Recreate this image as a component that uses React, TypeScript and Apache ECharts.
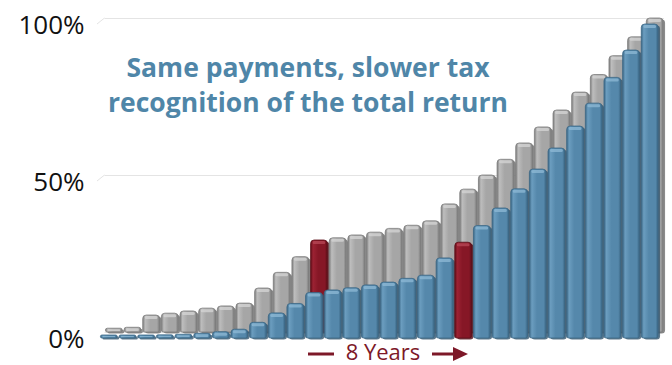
import React, { useEffect, useRef } from "react";
import * as echarts from "echarts";

const years = Array.from({ length: 30 }, (_, i) => String(i + 1));
const blueValues = [0.5, 0.6, 0.8, 1, 1.2, 1.5, 2, 2.8, 5, 8, 11, 14.5, 15.3, 16, 16.9, 17.8, 19, 20, 25.5, 30.5, 35.8, 41.4, 47.5, 53.8, 60.5, 67.5, 74.8, 83, 91.7, 100];
const grayValues = [1.2, 1.5, 5.4, 6, 6.7, 7.6, 8.3, 9.2, 14, 19, 24, 29.3, 30, 30.9, 31.8, 33, 34, 35.4, 40.8, 45.5, 50, 55, 60.2, 65.3, 70.7, 76.4, 82, 88, 94, 100];
const grayHighlight = 11;
const blueHighlight = 19;
const yTicks = [0, 50, 100];
const annotation = "Same payments, slower tax\nrecognition of the total return";
const spanLabel = "8 Years";

const BLUE = { base: "#5588ab", light: "#6b9dbf", edge: "#3b6785", side: "#34566e", top: "#8fbad6" };
const GRAY = { base: "#a6a6a6", light: "#bdbdbd", edge: "#7c7c7c", side: "#6e6e6e", top: "#d6d6d6" };
const RED = { base: "#861726", light: "#9c2233", edge: "#5e0f19", side: "#4f0c15", top: "#b84a58" };

function makeRender(pal: any, hi: number) {
  return (params: any, api: any) => {
    const i = api.value(0);
    const v = api.value(1);
    const top = api.coord([i, v]);
    const bottom = api.coord([i, 0]);
    const bw = api.size([1, 0])[0];
    const w = bw * 0.9;
    const x = top[0] - w / 2;
    const h = Math.max(bottom[1] - top[1], 3);
    const y = bottom[1] - h;
    const p = i === hi ? RED : pal;
    const r = Math.min(3.5, h / 2);
    return {
      type: "group",
      children: [
        {
          type: "rect",
          shape: { x: x + 2, y: y + 1.5, width: w, height: h, r: r },
          style: { fill: p.side, opacity: 0.8 },
        },
        {
          type: "rect",
          shape: { x, y, width: w, height: h, r: [r, r, Math.min(2, r), Math.min(2, r)] },
          style: {
            fill: new echarts.graphic.LinearGradient(0, 0, 1, 0, [
              { offset: 0, color: p.edge },
              { offset: 0.15, color: p.light },
              { offset: 0.45, color: p.base },
              { offset: 0.85, color: p.base },
              { offset: 1, color: p.edge },
            ]),
            stroke: p.edge,
            lineWidth: 0.8,
          },
        },
        {
          type: "rect",
          shape: { x: x + 2, y: y + 1, width: w - 4, height: Math.max(Math.min(3, h - 2), 0.5), r: 1.5 },
          style: { fill: p.top, opacity: 0.75 },
        },
      ],
    };
  };
}

export default function App() {
  const ref = useRef<HTMLDivElement>(null);
  useEffect(() => {
    const chart = echarts.init(ref.current!, null, { renderer: "svg" });
    const yBase = {
      type: "value",
      min: 0,
      max: 100,
      interval: 50,
      axisLine: { show: false },
      axisTick: { show: false },
    };
    const red = "#7d1828";
    chart.setOption({
      animation: false,
      backgroundColor: "#ffffff",
      grid: [
        { left: 99.5, right: 13, top: 24, bottom: 27 },
        { left: 104.5, right: 8, top: 18, bottom: 33 },
      ],
      xAxis: [
        { type: "category", data: years, gridIndex: 0, show: false },
        { type: "category", data: years, gridIndex: 1, show: false },
      ],
      yAxis: [
        {
          ...yBase,
          gridIndex: 0,
          splitLine: { show: false },
          axisLabel: {
            formatter: (v: number) => (yTicks.includes(v) ? v + "%" : ""),
            color: "#111111",
            fontSize: 26,
            fontWeight: 500,
            fontFamily: "Open Sans",
            margin: 15,
          },
        },
        {
          ...yBase,
          gridIndex: 1,
          axisLabel: { show: false },
          splitLine: { show: true, lineStyle: { color: "#e4e4e4", width: 1 } },
        },
      ],
      series: [
        {
          type: "custom",
          name: "Accelerated",
          xAxisIndex: 1,
          yAxisIndex: 1,
          renderItem: makeRender(GRAY, grayHighlight),
          data: grayValues.map((v, i) => [i, v]),
          encode: { x: 0, y: 1 },
          z: 2,
        },
        {
          type: "custom",
          name: "Deferred",
          xAxisIndex: 0,
          yAxisIndex: 0,
          renderItem: makeRender(BLUE, blueHighlight),
          data: blueValues.map((v, i) => [i, v]),
          encode: { x: 0, y: 1 },
          z: 3,
        },
      ],
      graphic: [
        {
          type: "line",
          shape: { x1: 97, y1: 181, x2: 104.5, y2: 175 },
          style: { stroke: "#e4e4e4", lineWidth: 1 },
        },
        {
          type: "line",
          shape: { x1: 97, y1: 24, x2: 104.5, y2: 18 },
          style: { stroke: "#e4e4e4", lineWidth: 1 },
        },
        {
          type: "text",
          x: 308,
          y: 84,
          z: 10,
          style: {
            text: annotation,
            fill: "#4f86a8",
            font: "bold 26.5px 'Open Sans'",
            align: "center",
            verticalAlign: "middle",
            lineHeight: 35,
          },
        },
        {
          type: "line",
          shape: { x1: 308, y1: 354, x2: 334, y2: 354 },
          style: { stroke: red, lineWidth: 3 },
        },
        {
          type: "text",
          x: 383,
          y: 351,
          style: {
            text: spanLabel,
            fill: red,
            font: "500 22px 'Open Sans'",
            align: "center",
            verticalAlign: "middle",
            lineHeight: 22,
          },
        },
        {
          type: "line",
          shape: { x1: 432, y1: 354, x2: 456, y2: 354 },
          style: { stroke: red, lineWidth: 3 },
        },
        {
          type: "polygon",
          shape: { points: [[453, 347], [468, 354], [453, 361]] },
          style: { fill: red },
        },
      ],
    });
    return () => chart.dispose();
  }, []);
  return (
    <div
      ref={ref}
      style={{ position: "fixed", left: 0, top: 0, width: 672, height: 365 }}
    />
  );
}
